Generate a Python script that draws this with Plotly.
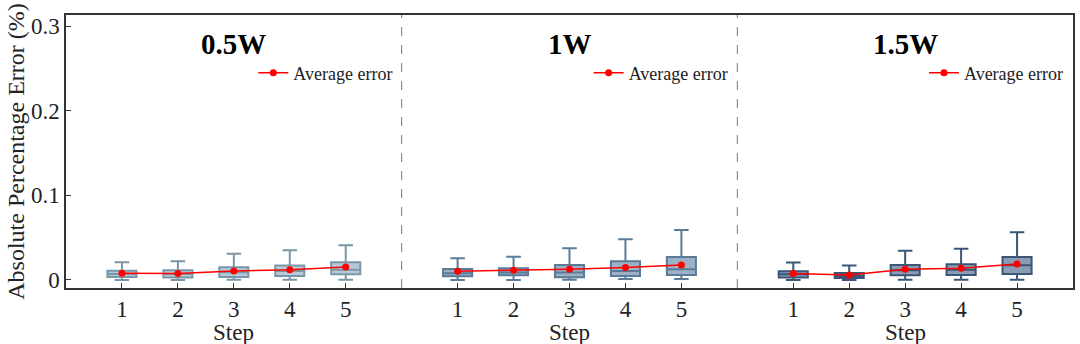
import plotly.graph_objects as go

# datos
steps = [1, 2, 3, 4, 5]
powers = ["0.5W", "1W", "1.5W"]

upper = [[0.021, 0.022, 0.031, 0.035, 0.041],
         [0.0256, 0.0275, 0.0374, 0.048, 0.059],
         [0.0205, 0.017, 0.0346, 0.037, 0.0563]]
q3 = [[0.011, 0.0115, 0.015, 0.017, 0.021],
      [0.013, 0.0138, 0.0177, 0.022, 0.027],
      [0.0103, 0.0083, 0.0177, 0.0185, 0.027]]
median = [[0.007, 0.007, 0.009, 0.0105, 0.012],
          [0.008, 0.0087, 0.0087, 0.0106, 0.0126],
          [0.0067, 0.0047, 0.0114, 0.0122, 0.0173]]
q1 = [[0.0035, 0.003, 0.0035, 0.0047, 0.0067],
      [0.0044, 0.0055, 0.0032, 0.0047, 0.0059],
      [0.0028, 0.0024, 0.0055, 0.0059, 0.0071]]
lower = [[0.0, 0.0, 0.0003, 0.0003, 0.0003],
         [0.0, 0.0, 0.0003, 0.001, 0.001],
         [0.0, 0.0, 0.0003, 0.0003, 0.0003]]
mean_err = [[0.008, 0.0077, 0.0106, 0.0122, 0.0153],
            [0.0103, 0.0114, 0.0126, 0.0146, 0.0177],
            [0.0075, 0.006, 0.0126, 0.0138, 0.0189]]

fills = ["#b7c9d4", "#9cb1c5", "#8a9db4"]
edges = ["#7a97a9", "#5a7b98", "#3b5676"]
legend_x = [0.33, 0.663, 0.996]
font = "Liberation Serif"

fig = go.Figure()

for i, p in enumerate(powers):
    xs = [s + 6 * i for s in steps]
    fig.add_trace(go.Box(
        x=xs, q1=q1[i], median=median[i], q3=q3[i],
        lowerfence=lower[i], upperfence=upper[i],
        width=0.52, whiskerwidth=0.5,
        fillcolor=fills[i], line=dict(color=edges[i], width=2),
        showlegend=False, boxpoints=False
    ))
    fig.add_trace(go.Scatter(
        x=xs, y=mean_err[i], mode="lines+markers", name="Average error",
        line=dict(color="#ff0000", width=1.5),
        marker=dict(color="#ff0000", size=7),
        legend="legend" if i == 0 else f"legend{i + 1}"
    ))
    fig.add_annotation(x=3 + 6 * i, y=0.894, yref="paper", yanchor="middle",
                       text=f"<b>{p}</b>", showarrow=False,
                       font=dict(family=font, size=29, color="black"))
    fig.add_annotation(x=3 + 6 * i, y=-0.11, yref="paper", text="Step",
                       showarrow=False, yanchor="top",
                       font=dict(family=font, size=23, color="#222"))

# separadores punteados
for xv in [6, 12]:
    fig.add_shape(type="line", x0=xv, x1=xv, y0=0, y1=1, yref="paper",
                  line=dict(color="#777", width=1, dash="dash"))

leg = dict(xanchor="right", yanchor="middle", y=0.787, bgcolor="rgba(0,0,0,0)",
           font=dict(family=font, size=18, color="#222"), itemwidth=30)

fig.update_layout(
    width=1080, height=344,
    margin=dict(l=66, r=5, t=15, b=56),
    plot_bgcolor="white", paper_bgcolor="white",
    font=dict(family=font, color="#222"),
    legend=dict(x=legend_x[0], **leg),
    legend2=dict(x=legend_x[1], **leg),
    legend3=dict(x=legend_x[2], **leg),
    xaxis=dict(range=[0, 18], tickvals=[s + 6 * i for i in range(3) for s in steps],
               ticktext=[str(s) for i in range(3) for s in steps],
               ticks="inside", ticklen=5, tickcolor="#333",
               showline=True, linecolor="#333", linewidth=1.5, mirror=True,
               showgrid=False, zeroline=False, tickfont=dict(size=23)),
    yaxis=dict(range=[-0.0095, 0.313], tickvals=[0, 0.1, 0.2, 0.3],
               ticktext=["0", "0.1", "0.2", "0.3"],
               ticks="inside", ticklen=5, tickcolor="#333",
               showline=True, linecolor="#333", linewidth=1.5, mirror=True,
               showgrid=False, zeroline=False, tickfont=dict(size=23),
               title=dict(text="Absolute Percentage Error (%)", font=dict(size=24), standoff=0)),
)

# quitar el margen del body para que la figura quede en 0,0
fig.write_html("out.html", config={"displayModeBar": False},
               post_script="document.body.style.margin='0';")
